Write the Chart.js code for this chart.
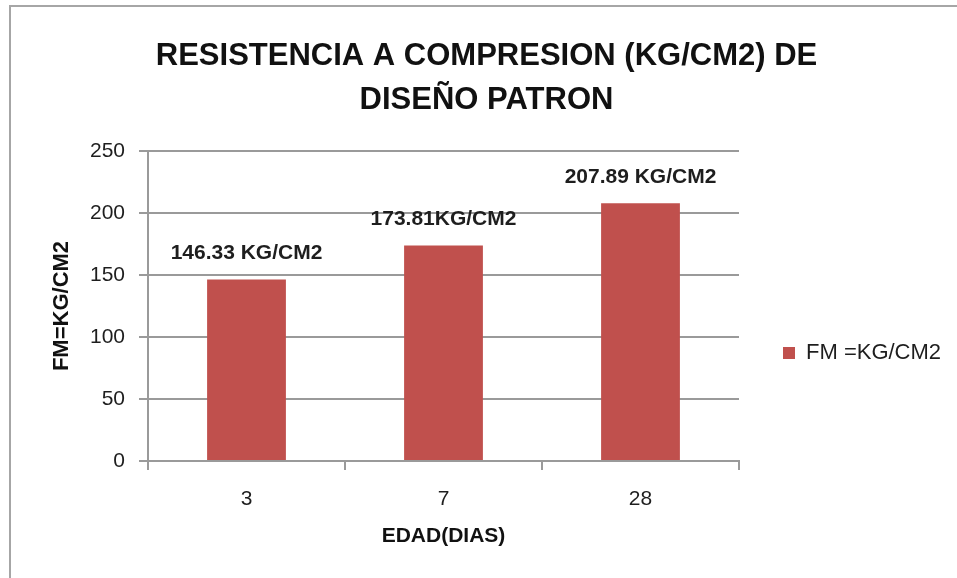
<!DOCTYPE html>
<html>
<head>
<meta charset="utf-8">
<script src="https://cdn.jsdelivr.net/npm/chart.js@4/dist/chart.umd.min.js"></script>
<style>
  body { margin: 0; background: #fff; }
  #wrap { position: relative; width: 957px; height: 578px; }
  #frame {
    position: absolute; left: 9px; top: 5px; right: 0; bottom: 0;
    border-top: 2px solid #a6a6a6; border-left: 2px solid #a6a6a6;
    pointer-events: none;
  }
</style>
</head>
<body>
<div id="wrap">
  <canvas id="chart" width="957" height="578"></canvas>
  <div id="frame"></div>
</div>
<script>
// data
const categories = ['3', '7', '28'];
const resistencia = [146.33, 173.81, 207.89];
const valueLabels = ['146.33 KG/CM2', '173.81KG/CM2', '207.89 KG/CM2'];
const chartTitle = ['RESISTENCIA A COMPRESION (KG/CM2) DE', 'DISEÑO PATRON'];
const seriesName = 'FM =KG/CM2';
const xTitle = 'EDAD(DIAS)';
const yTitle = 'FM=KG/CM2';
const yMin = 0, yMax = 250, yStep = 50;

const FONT = "'Liberation Sans', Arial, sans-serif";
const textColor = '#1e1e1e';
const lineColor = '#9a9a9a';

Chart.defaults.font.family = FONT;
Chart.defaults.color = textColor;

// writes the value above each bar
const barLabels = {
    id: 'barLabels',
    afterDatasetsDraw(chart) {
        const ctx = chart.ctx;
        const meta = chart.getDatasetMeta(0);
        ctx.save();
        ctx.font = 'bold 21px ' + FONT;
        ctx.fillStyle = textColor;
        ctx.textAlign = 'center';
        ctx.textBaseline = 'middle';
        meta.data.forEach((bar, i) => {
            ctx.fillText(valueLabels[i], bar.x, bar.y - 26);
        });
        ctx.restore();
    }
};

// keep the legend column as wide as in the original
const legendWidth = {
    id: 'legendWidth',
    beforeLayout(chart) {
        const legend = chart.legend;
        if (legend && !legend._fixedWidth) {
            const fit = legend.fit;
            legend.fit = function() {
                fit.call(this);
                this.width = 218;
            };
            legend._fixedWidth = true;
        }
    }
};

const ctx = document.getElementById('chart').getContext('2d');
new Chart(ctx, {
    type: 'bar',
    data: {
        labels: categories,
        datasets: [{
            label: seriesName,
            data: resistencia,
            backgroundColor: '#C0504D',
            borderWidth: 0,
            barPercentage: 1,
            categoryPercentage: 0.4
        }]
    },
    options: {
        responsive: false,
        animation: false,
        devicePixelRatio: 1,
        layout: { padding: { left: 16, right: 0, top: 0, bottom: 0 } },
        plugins: {
            title: {
                display: true,
                text: chartTitle,
                color: '#111',
                font: { size: 31, weight: 'bold', lineHeight: 44 / 31 },
                padding: { top: 34, bottom: 29 }
            },
            legend: {
                position: 'right',
                align: 'center',
                title: { display: true, text: '', font: { size: 10, lineHeight: 1 }, padding: { top: 0, bottom: 118 } },
                labels: {
                    boxWidth: 12,
                    boxHeight: 12,
                    padding: 44,
                    color: textColor,
                    font: { size: 22 }
                }
            },
            tooltip: { enabled: false }
        },
        scales: {
            x: {
                grid: {
                    offset: true,
                    drawOnChartArea: false,
                    tickLength: 9,
                    color: lineColor,
                    lineWidth: 2
                },
                border: { color: lineColor, width: 2 },
                ticks: { padding: 17, font: { size: 21 }, color: textColor },
                title: {
                    display: true,
                    text: xTitle,
                    color: '#111',
                    font: { size: 21, weight: 'bold' },
                    padding: { top: 0, bottom: 29 }
                },
                afterFit(scale) { scale.height = 117; }
            },
            y: {
                min: yMin,
                max: yMax,
                ticks: { stepSize: yStep, padding: 14, font: { size: 21 }, color: textColor },
                grid: { tickLength: 9, color: lineColor, lineWidth: 2 },
                border: { color: lineColor, width: 2 },
                title: {
                    display: true,
                    text: yTitle,
                    color: '#111',
                    font: { size: 22, weight: 'bold' },
                    padding: { top: 33, bottom: 0 }
                },
                afterFit(scale) { scale.width = 132; }
            }
        }
    },
    plugins: [barLabels, legendWidth]
});
</script>
</body>
</html>
